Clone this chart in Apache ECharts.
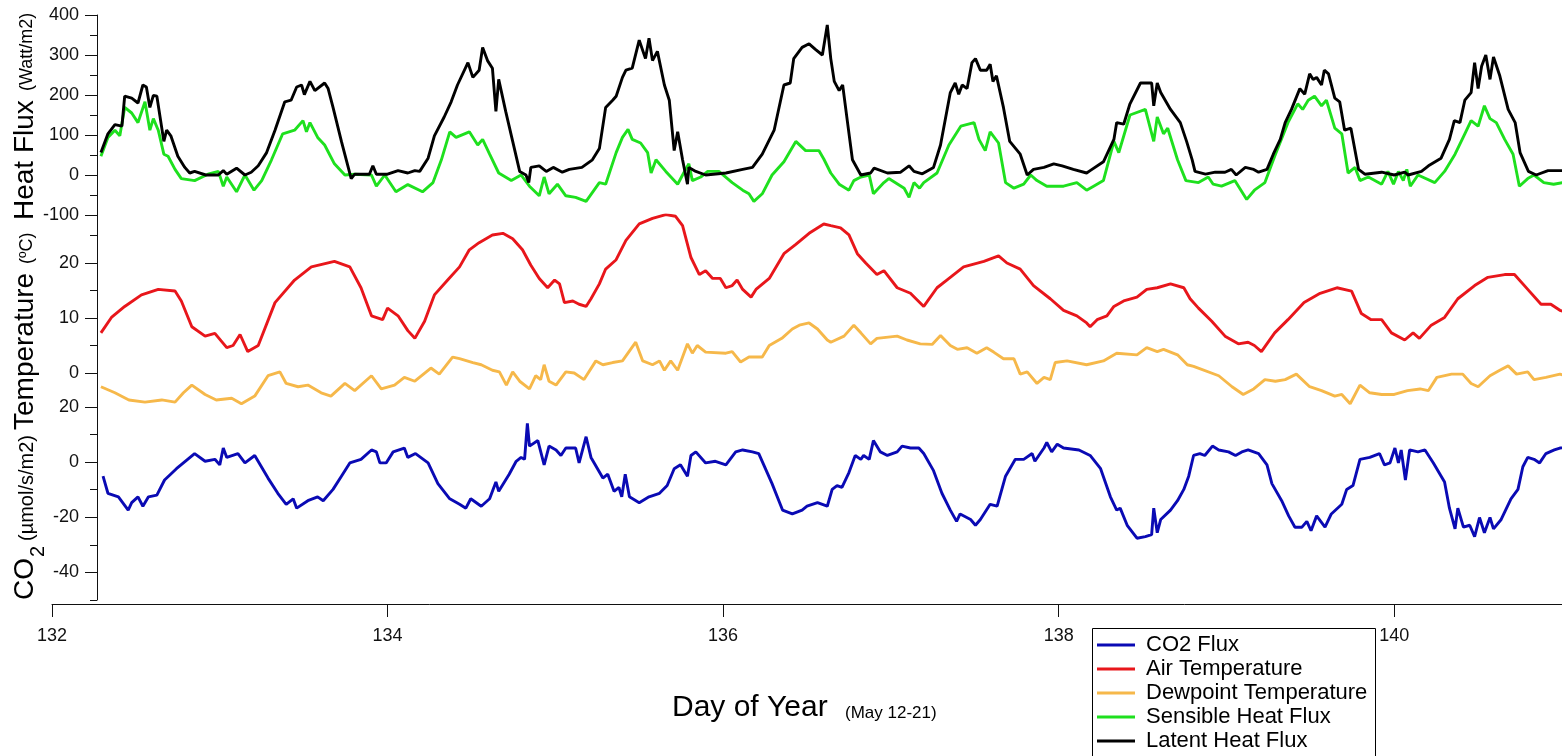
<!DOCTYPE html>
<html><head><meta charset="utf-8">
<script src="https://cdn.jsdelivr.net/npm/echarts@6/dist/echarts.min.js"></script>
<style>html,body{margin:0;padding:0;background:#fff}#c{width:1562px;height:756px}</style>
</head><body><div id="c"></div>
<script>
// Day of year at hour 0 of the first tick; hours below are counted from it
const DAY0 = 132;
const dayTicks = [132, 134, 136, 138, 140];
const heatTicks = [-100, 0, 100, 200, 300, 400];
const heatMinor = [-50, 50, 150, 250, 350];
const tempTicks = [0, 10, 20];
const tempMinor = [5, 15, 25];
const co2Ticks = [-40, -20, 0, 20];
const co2Minor = [-50, -30, -10, 10];

const latentHour = [7.0,8.0,9.0,10.0,10.4,11.4,12.3,13.0,13.5,14.0,14.5,15.0,16.0,16.4,17.0,18.0,19.0,19.7,20.4,22.0,23.8,24.5,25.0,26.4,27.6,28.5,29.5,30.7,31.9,33.3,34.2,35.0,35.7,36.1,36.9,37.6,39.0,39.5,40.2,41.4,42.8,43.3,45.4,45.9,46.4,48.0,49.5,50.9,51.9,52.6,53.8,54.7,56.1,57.1,58.0,59.5,60.2,61.1,61.6,62.3,63.0,63.5,63.9,64.9,65.9,66.9,67.8,68.2,68.5,69.7,70.7,71.7,73.0,74.0,75.8,77.3,78.3,79.2,80.2,80.7,81.6,82.1,83.0,84.0,84.9,85.4,85.9,86.6,87.6,88.3,89.0,89.5,90.2,90.9,91.1,92.1,93.5,96.4,98.8,100.2,101.6,103.3,104.7,105.6,106.1,107.3,108.3,109.2,110.2,110.9,111.4,111.9,112.6,113.1,113.8,114.5,115.7,117.1,117.6,119.5,121.4,122.6,123.3,124.5,126.1,127.1,128.5,129.2,129.7,130.2,130.9,131.6,132.1,132.8,133.7,134.2,134.6,135.1,136.1,137.0,138.5,139.5,140.4,141.9,143.3,144.5,146.1,148.0,148.5,150.4,151.9,152.3,153.3,154.2,155.7,157.3,157.6,158.1,158.6,160.0,161.4,162.3,163.1,163.5,165.0,166.4,167.8,168.7,169.4,170.7,171.9,172.6,173.8,174.7,175.7,176.4,177.3,178.5,179.2,179.9,180.4,180.9,181.6,182.0,182.6,183.5,184.2,184.9,185.8,186.9,187.8,190.2,192.0,193.5,194.0,195.9,196.9,198.7,199.9,200.6,201.4,202.1,203.0,203.5,204.0,204.5,205.1,205.7,206.2,207.1,208.3,209.3,210.0,211.2,212.3,214.0,215.7,216.2];
const latentFlux = [56,103,126,122,197,192,180,225,220,169,199,197,84,112,98,47,19,5,9,0,0,11,2,17,0,7,23,56,112,183,187,220,225,201,234,211,230,216,169,84,-9,2,2,23,2,2,11,5,11,9,42,98,145,183,225,281,244,262,319,286,267,159,239,159,84,9,0,-19,19,23,9,19,7,14,19,38,66,169,187,197,244,262,267,337,291,342,286,309,225,187,61,108,38,-23,19,9,0,5,14,19,52,112,225,230,291,319,328,314,300,375,291,234,211,225,131,38,0,5,17,5,7,23,9,3,19,75,206,230,202,225,216,281,291,262,262,277,234,248,169,84,52,0,14,19,28,23,14,5,11,33,89,131,127,178,230,230,173,230,206,164,131,84,38,9,2,7,7,14,0,19,14,7,14,52,89,131,164,216,202,253,239,244,225,262,253,192,183,112,117,14,2,7,0,7,0,9,23,42,89,136,131,187,206,281,216,272,300,239,295,248,164,131,56,9,0,11,11,11];

const sensHour = [7.0,8.0,9.0,9.7,10.4,11.4,12.3,13.3,14.0,14.5,15.2,16.0,16.6,17.6,18.5,20.4,22.3,23.8,24.5,25.0,26.4,27.6,28.9,30.0,31.4,33.0,34.7,35.9,36.4,36.9,38.0,39.0,40.4,41.9,43.3,45.7,46.4,47.6,49.2,50.9,53.0,54.5,55.7,56.9,57.8,59.7,60.9,61.6,62.6,63.9,65.7,67.1,68.3,69.7,70.4,71.1,72.3,73.5,74.9,76.4,78.3,79.2,80.7,81.6,82.4,83.0,84.2,85.2,85.7,86.4,87.8,89.5,90.2,91.1,91.6,92.8,93.8,95.4,97.3,98.8,99.7,100.4,101.6,103.0,104.7,106.4,107.8,109.7,110.4,111.4,112.6,114.0,114.7,115.7,116.9,117.5,119.0,119.7,121.9,122.6,123.3,124.1,124.7,126.6,128.3,130.0,131.9,132.6,133.5,134.2,135.4,136.4,137.6,139.0,140.0,140.9,142.3,144.7,146.6,148.0,149.0,150.4,151.9,152.6,154.2,156.4,157.6,158.1,159.0,159.6,161.0,162.2,164.0,165.4,166.1,167.3,169.2,170.9,172.0,173.5,174.9,176.8,178.2,178.9,179.7,180.6,181.6,182.3,183.5,184.5,185.4,186.4,187.1,188.3,190.2,191.1,191.9,192.6,193.3,193.8,194.3,195.4,197.8,199.2,200.7,202.1,203.0,204.0,204.9,205.7,206.6,207.8,209.0,209.9,211.1,212.0,213.4,214.8,216.2];
const sensFlux = [47,94,112,98,169,155,131,183,112,141,112,52,47,14,-9,-14,2,9,-28,-5,-42,0,-38,-14,38,103,112,136,108,131,94,75,28,0,2,0,-28,0,-42,-24,-42,-19,38,108,94,108,75,89,52,5,-14,0,-28,-52,-5,-47,-23,-52,-56,-66,-19,-23,56,94,114,89,80,56,5,38,9,-23,0,28,-14,-5,9,9,-19,-38,-47,-66,-47,0,33,84,61,61,40,5,-23,-38,-14,-5,0,-47,-19,-9,-33,-56,-19,-33,-19,5,75,122,131,89,61,108,80,-19,-33,-23,0,-14,-28,-28,-19,-38,-28,-14,84,56,150,164,84,145,103,117,38,-14,-19,-5,-23,-28,-14,-61,-38,-19,47,131,178,164,187,197,173,187,117,103,5,19,-14,-5,-23,9,-23,9,-14,14,-28,0,-19,9,52,103,136,122,173,141,131,89,52,-28,-9,0,-19,-23,-19];

const airHour = [7.0,8.5,10.4,12.8,15.2,17.6,18.5,20.0,21.9,23.3,25.0,25.9,26.9,28.0,29.5,31.9,34.7,37.1,40.4,42.6,44.2,45.7,47.3,48.0,49.5,50.9,51.9,53.3,54.7,56.6,58.3,59.7,61.1,63.0,64.5,65.9,67.3,68.5,69.7,70.9,71.9,72.6,73.3,74.5,75.4,76.4,77.1,78.3,79.2,80.7,82.1,84.0,85.9,87.8,89.2,90.2,91.4,92.6,93.5,94.5,95.6,96.4,97.3,98.0,98.8,100.0,100.7,102.6,104.7,106.4,108.3,110.4,111.4,112.8,114.0,115.2,116.4,118.0,119.0,120.9,122.8,124.7,126.6,128.0,130.4,133.3,135.4,136.6,138.5,140.4,142.8,144.7,146.6,148.0,148.5,149.5,150.9,151.9,153.3,155.2,156.6,158.1,160.0,161.9,162.8,164.0,165.9,167.8,169.7,171.1,172.0,173.0,174.9,176.8,179.1,181.4,183.8,185.9,187.3,188.7,190.2,191.6,193.5,194.7,195.6,197.3,199.2,201.1,203.5,205.4,207.8,209.2,211.1,213.0,214.4,215.7,216.2];
const airTemp = [7.3,10.1,12.1,14.2,15.2,14.9,13.1,8.4,6.7,7.2,4.6,5.0,7.0,3.9,5.0,12.8,16.9,19.3,20.3,19.3,15.5,10.4,9.7,11.8,10.4,7.7,6.3,9.4,14.2,16.9,19.3,22.4,23.7,25.1,25.4,24.4,22.4,19.6,17.2,15.5,16.9,16.2,12.8,13.1,12.5,12.1,13.5,16.2,18.9,20.6,24.1,27.1,28.1,28.8,28.5,26.8,21.0,17.9,18.6,17.2,17.2,15.5,15.9,16.9,15.2,13.8,15.2,17.2,21.7,23.4,25.4,27.1,26.8,26.4,25.1,21.7,20.0,17.9,18.6,15.5,14.5,12.1,15.5,16.9,19.3,20.3,21.3,20.0,18.9,15.9,13.5,11.4,10.4,9.1,8.4,9.7,10.4,12.1,13.1,13.8,15.2,15.5,16.2,15.5,13.5,11.8,9.4,6.7,5.3,5.6,5.0,3.9,7.3,9.7,12.8,14.5,15.5,14.9,10.8,9.7,9.7,7.3,6.0,7.3,6.3,8.7,10.1,13.5,15.9,17.4,17.9,17.9,15.2,12.5,12.5,11.4,11.2];

const dewHour = [7.0,9.0,11.0,13.3,15.7,17.6,18.8,20.0,21.9,23.5,25.7,27.1,29.0,30.9,32.6,33.5,35.2,36.6,38.5,39.9,41.9,43.3,45.7,47.1,49.0,50.4,51.9,54.2,55.4,57.3,58.3,60.2,61.4,63.0,64.0,65.0,65.9,66.9,68.3,69.2,69.9,70.4,71.1,72.1,73.5,74.7,76.1,77.8,78.8,80.2,81.6,83.5,84.5,85.9,86.9,87.6,88.5,89.5,90.9,91.6,92.3,93.5,96.4,97.3,98.5,99.7,101.6,102.6,104.4,105.9,106.9,108.3,109.5,110.9,111.4,113.3,114.7,115.7,117.1,118.0,120.9,122.3,124.2,125.9,127.1,128.5,129.5,130.9,132.3,133.7,134.7,136.1,137.6,138.5,139.5,140.9,141.9,142.8,143.5,145.2,148.0,150.4,152.3,155.2,156.6,158.1,159.0,161.0,162.4,163.3,166.9,168.8,170.4,171.9,173.5,175.0,176.4,178.0,179.9,181.6,183.5,184.5,185.7,187.1,188.5,190.2,192.0,193.9,195.7,196.9,198.1,200.2,201.8,203.0,204.0,205.7,207.1,208.3,209.5,211.1,212.0,213.7,215.7,216.2];
const dewTemp = [-2.5,-3.6,-4.9,-5.3,-4.9,-5.3,-3.6,-2.2,-3.9,-4.9,-4.6,-5.6,-4.2,-0.5,0.2,-1.9,-2.5,-2.2,-3.6,-4.2,-1.9,-3.2,-0.5,-2.9,-2.2,-0.8,-1.5,0.9,-0.2,2.9,2.6,1.9,1.5,0.5,0.2,-2.2,0.2,-1.5,-2.9,-0.5,-1.2,1.5,-1.5,-2.2,0.2,0.0,-1.2,2.2,1.5,1.9,2.2,5.6,2.2,1.5,2.2,0.5,2.2,0.5,5.3,3.6,5.0,3.8,3.6,3.9,2.0,2.9,2.9,5.0,6.3,8.0,8.7,9.1,8.0,6.0,5.6,6.7,8.7,7.3,5.3,6.3,6.7,6.0,5.3,5.2,6.8,5.0,4.3,4.6,3.6,4.6,3.8,2.6,2.6,-0.2,0.2,-1.9,-0.8,-1.2,1.9,2.2,1.5,2.2,3.6,3.3,4.6,3.9,4.3,3.3,1.5,1.2,-0.5,-2.5,-3.9,-2.9,-1.2,-1.5,-1.2,-0.2,-2.5,-3.2,-4.2,-3.9,-5.6,-2.2,-3.6,-3.9,-3.9,-3.2,-2.9,-3.2,-0.8,-0.2,-0.2,-1.9,-2.5,-0.5,0.5,1.3,-0.2,0.2,-1.2,-0.8,-0.2,-0.4];

const co2Hour = [7.3,8.0,9.5,10.9,11.4,12.3,13.0,13.8,15.0,16.1,17.8,20.4,21.9,23.3,24.0,24.5,25.0,26.6,27.6,29.0,30.9,32.3,33.5,34.5,35.0,36.6,38.0,38.8,40.2,41.4,42.6,44.2,45.7,46.4,46.9,47.8,48.8,50.4,50.9,52.0,53.8,55.2,56.9,58.3,59.2,59.9,61.4,62.6,63.5,63.9,65.4,66.4,67.1,67.6,68.0,68.3,69.5,70.4,71.1,72.1,72.8,73.5,74.9,75.4,76.4,77.1,78.8,79.5,80.4,81.1,81.5,82.0,82.6,84.0,85.4,86.9,88.0,89.0,89.9,90.9,91.4,92.1,93.5,94.9,96.4,97.8,98.8,100.2,101.1,103.0,104.5,105.9,107.3,108.0,109.5,110.9,111.6,112.3,113.0,114.0,114.9,115.7,116.1,116.9,117.5,118.5,119.5,120.9,121.6,122.8,124.0,124.7,126.1,127.3,128.5,129.4,129.9,131.4,132.1,132.8,134.2,135.2,136.4,137.8,139.0,140.2,140.6,141.9,142.3,143.0,143.8,144.7,146.9,148.5,150.0,151.4,152.3,152.8,153.8,155.2,156.4,157.3,157.6,158.1,158.6,160.0,161.0,161.9,162.6,163.3,164.2,164.9,166.0,166.9,168.3,169.3,170.2,171.1,172.6,173.8,174.5,175.9,176.9,177.8,178.8,179.5,180.1,180.9,182.1,183.0,184.5,185.2,186.1,187.1,188.5,189.9,190.6,191.4,192.1,192.6,193.0,193.6,194.2,195.4,196.4,197.6,199.2,199.9,200.7,201.1,201.9,202.8,203.5,204.2,204.9,205.7,206.2,207.3,208.7,209.7,210.4,211.1,212.0,212.8,213.7,214.9,215.7,216.2];
const co2Flux = [-5.1,-11.3,-12.6,-17.4,-14.7,-12.6,-16,-12.6,-12,-6.5,-2.4,3.1,0.3,1.0,-1,5.1,1.7,3.1,-0.3,2.4,-5.8,-11.3,-15.3,-13.3,-16.7,-14,-12.6,-14,-9.9,-5.1,-0.3,1.0,4.4,3.7,-0.3,-0.3,3.7,5.1,1.7,3.1,-0.3,-7.8,-13.3,-15.3,-16.7,-13.3,-16,-13.3,-7.2,-10.6,-4.4,0.3,1.7,1.0,14,5.8,7.8,-1,5.8,4.4,2.4,5.1,5.1,-0.3,9.2,1.7,-5.8,-4.4,-10.6,-9.2,-12.6,-4.4,-12.6,-14.7,-12.6,-11.3,-8.5,-2.4,-1,-5.1,2.4,3.7,-0.3,0.3,-1,3.7,4.4,3.7,3.1,-7.8,-17.4,-18.8,-17.4,-16,-14.7,-16,-9.9,-8.5,-9.2,-3.8,2.4,1.0,2.4,1.0,7.8,3.7,2.4,3.7,5.8,5.1,5.1,3.1,-3.1,-11.3,-17.4,-21.5,-18.8,-20.8,-22.9,-20.8,-15.3,-16,-5.1,1.0,1.0,3.1,0.3,5.1,7.1,3.7,6.5,5.1,4.4,2.4,-2.4,-12.6,-17.4,-16.7,-22.9,-27.6,-27,-26.3,-16.7,-25.6,-20.8,-17.4,-14,-9.9,-5.1,2.4,3.1,2.4,5.8,4.4,3.7,2.4,3.7,4.4,3.1,-1,-7.8,-14,-19.5,-23.6,-23.6,-21.5,-24.9,-19.5,-23.6,-18.8,-15.3,-9.9,-8.5,1.0,1.7,3.1,-1,-0.3,5.1,-0.3,4.4,-6.5,4.4,3.7,4.4,-0.3,-7.2,-16.7,-24.2,-16.7,-23.6,-22.9,-27,-20.1,-25.6,-20.1,-24.2,-20.8,-13.3,-9.9,-1.7,1.7,1.0,-0.3,3.1,4.4,5.1,5.2];

function pairs(hours, vals) { return hours.map((h, k) => [DAY0 + h / 24, vals[k]]); }

const FONT = "'Liberation Sans', Arial, sans-serif";
const INK = '#111';

function xAx(gi, show) {
  return {
    type: 'value', gridIndex: gi, min: 132, max: 141, show: show, offset: show ? 4 : 0,
    axisLine: { show: true, onZero: false, lineStyle: { color: INK, width: 1 } },
    axisTick: { show: true, length: 13, customValues: dayTicks, lineStyle: { color: INK } },
    axisLabel: { show: true, customValues: dayTicks, fontSize: 18, color: INK, fontFamily: FONT, margin: 23 },
    splitLine: { show: false }
  };
}
function yMain(gi, mn, mx, ticks) {
  return {
    type: 'value', gridIndex: gi, min: mn, max: mx, position: 'left', offset: -45,
    axisLine: { show: true, onZero: false, lineStyle: { color: INK, width: 1 } },
    axisTick: { show: true, length: 12, customValues: ticks, lineStyle: { color: INK } },
    axisLabel: { show: true, customValues: ticks, fontSize: 18, color: INK, fontFamily: FONT, margin: 18 },
    splitLine: { show: false }
  };
}
function yMinor(gi, mn, mx, ticks) {
  return {
    type: 'value', gridIndex: gi, min: mn, max: mx, position: 'left', offset: -45,
    axisLine: { show: false, onZero: false },
    axisTick: { show: true, length: 7, customValues: ticks, lineStyle: { color: INK } },
    axisLabel: { show: false },
    splitLine: { show: false }
  };
}
function line(name, color, xi, yi, data) {
  return {
    name: name, type: 'line', xAxisIndex: xi, yAxisIndex: yi, data: data,
    symbol: 'none', showSymbol: false, clip: true,
    lineStyle: { color: color, width: 2.9 }, itemStyle: { color: color }
  };
}
function vtext(x, y, text, size) {
  return { type: 'text', x: x, y: y, rotation: Math.PI / 2, silent: true,
    style: { text: text, fontSize: size, fontFamily: FONT, fill: '#000',
      align: 'left', verticalAlign: 'middle', textAlign: 'left', textVerticalAlign: 'middle' } };
}
function htext(x, y, text, size) {
  return { type: 'text', x: x, y: y, silent: true,
    style: { text: text, fontSize: size, fontFamily: FONT, fill: '#000',
      align: 'left', verticalAlign: 'middle', textAlign: 'left', textVerticalAlign: 'middle' } };
}

const chart = echarts.init(document.getElementById('c'), null, { renderer: 'canvas' });
chart.setOption({
  animation: false,
  backgroundColor: '#fff',
  grid: [
    { left: 52, right: 0, top: 15, height: 200 },
    { left: 52, right: 0, top: 215, height: 190 },
    { left: 52, right: 0, top: 405, height: 195 }
  ],
  xAxis: [xAx(0, false), xAx(1, false), xAx(2, true)],
  yAxis: [
    yMain(0, -100, 400, heatTicks), yMinor(0, -100, 400, heatMinor),
    yMain(1, -5.82, 28.73, tempTicks), yMinor(1, -5.82, 28.73, tempMinor),
    yMain(2, -50, 20.7, co2Ticks), yMinor(2, -50, 20.7, co2Minor)
  ],
  legend: {
    orient: 'vertical', left: 1092, top: 628,
    data: ['CO2 Flux', 'Air Temperature', 'Dewpoint Temperature', 'Sensible Heat Flux', 'Latent Heat Flux'],
    icon: 'rect', itemWidth: 38, itemHeight: 3, itemGap: 2,
    padding: [6, 5, 0, 5],
    borderWidth: 0,
    textStyle: { fontSize: 22, lineHeight: 22, color: '#000', fontFamily: FONT, padding: [0, 0, 0, 6] }
  },
  graphic: [
    { type: 'rect', z: 0, silent: true, shape: { x: 1092.5, y: 628.5, width: 283, height: 150 },
      style: { fill: '#fff', stroke: '#000', lineWidth: 1 } },
    vtext(25, 220, 'Heat Flux', 28), vtext(27, 91, '(Watt/m2)', 18),
    vtext(25, 430, 'Temperature', 28), vtext(27, 264, '(ºC)', 18),
    vtext(25, 600, 'CO', 28), vtext(38, 557, '2', 20), vtext(27, 541, '(µmol/s/m2)', 20),
    htext(672, 708, 'Day of Year', 30), htext(845, 713, '(May 12-21)', 17)
  ],
  series: [
    line('CO2 Flux', '#0a0ab4', 2, 4, pairs(co2Hour, co2Flux)),
    line('Air Temperature', '#e8161b', 1, 2, pairs(airHour, airTemp)),
    line('Dewpoint Temperature', '#f6b84a', 1, 2, pairs(dewHour, dewTemp)),
    line('Sensible Heat Flux', '#1ee01e', 0, 0, pairs(sensHour, sensFlux)),
    line('Latent Heat Flux', '#000000', 0, 0, pairs(latentHour, latentFlux))
  ]
});
</script></body></html>
